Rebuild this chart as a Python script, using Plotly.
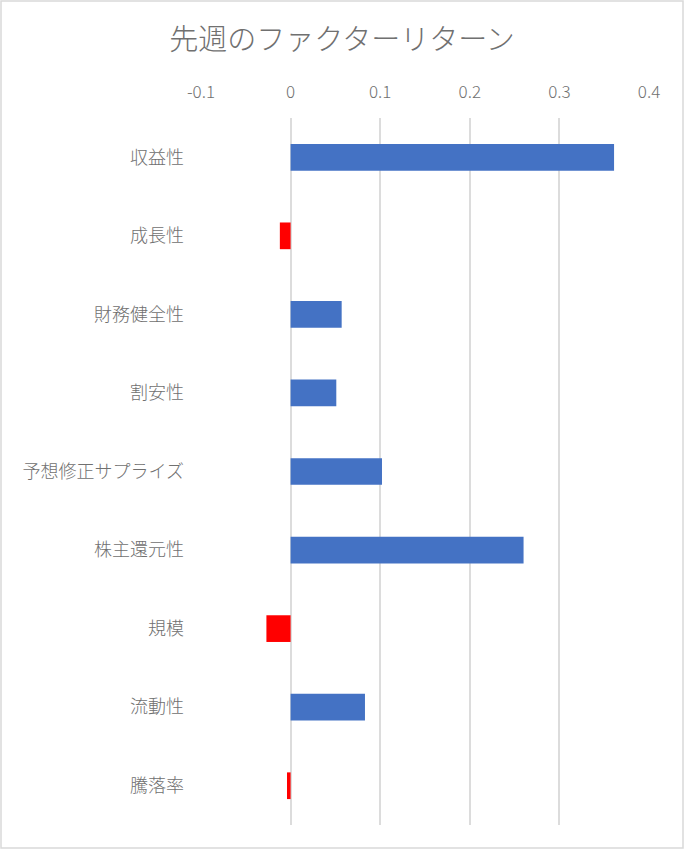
import plotly.graph_objects as go

# factor names, top to bottom as shown
factors = ["収益性", "成長性", "財務健全性", "割安性", "予想修正サプライズ",
           "株主還元性", "規模", "流動性", "騰落率"]
returns = [0.361, -0.012, 0.057, 0.051, 0.102, 0.260, -0.027, 0.083, -0.004]

colors = ["#4472C4" if v >= 0 else "#FF0000" for v in returns]

W, H = 684, 849
ml, mr, mt, mb = 201, 35, 118, 24
font = "Noto Sans CJK JP"
grey = "#707070"

fig = go.Figure(go.Bar(
    x=returns, y=factors, orientation="h",
    marker=dict(color=colors, line=dict(width=0)),
    width=0.34,
))

fig.update_layout(
    width=W, height=H,
    margin=dict(l=ml, r=mr, t=mt, b=mb),
    paper_bgcolor="white", plot_bgcolor="white",
    showlegend=False,
    title=dict(text="先週のファクターリターン", x=0.5, xref="container",
               xanchor="center", y=1 - 40 / H, yanchor="middle",
               font=dict(family=font, size=29, color=grey, weight=300)),
    font=dict(family=font, size=16, color=grey),
)

fig.update_xaxes(
    side="top", range=[-0.1, 0.4],
    tickvals=[-0.1, 0, 0.1, 0.2, 0.3, 0.4],
    ticktext=["-0.1", "0", "0.1", "0.2", "0.3", "0.4"],
    showgrid=True, gridcolor="#DCDCDC", gridwidth=2,
    zeroline=False, showline=False, ticks="",
    ticklabelstandoff=16,
    tickfont=dict(family=font, size=17, color=grey, weight=300),
)
fig.update_yaxes(
    autorange="reversed", showgrid=False, zeroline=False, showline=False,
    ticks="", ticklabelstandoff=16,
    tickfont=dict(family=font, size=18, color=grey, weight=300),
)

# outer border of the whole chart
pw, ph = W - ml - mr, H - mt - mb
fig.add_shape(type="rect", xref="paper", yref="paper",
              x0=(1 - ml) / pw, x1=(W - 1 - ml) / pw,
              y0=-(mb - 1) / ph, y1=1 + (mt - 1) / ph,
              line=dict(color="#D9D9D9", width=1.5), layer="below")

fig.write_html("out.html", config={"displayModeBar": False},
               post_script="document.body.style.margin='0';")
